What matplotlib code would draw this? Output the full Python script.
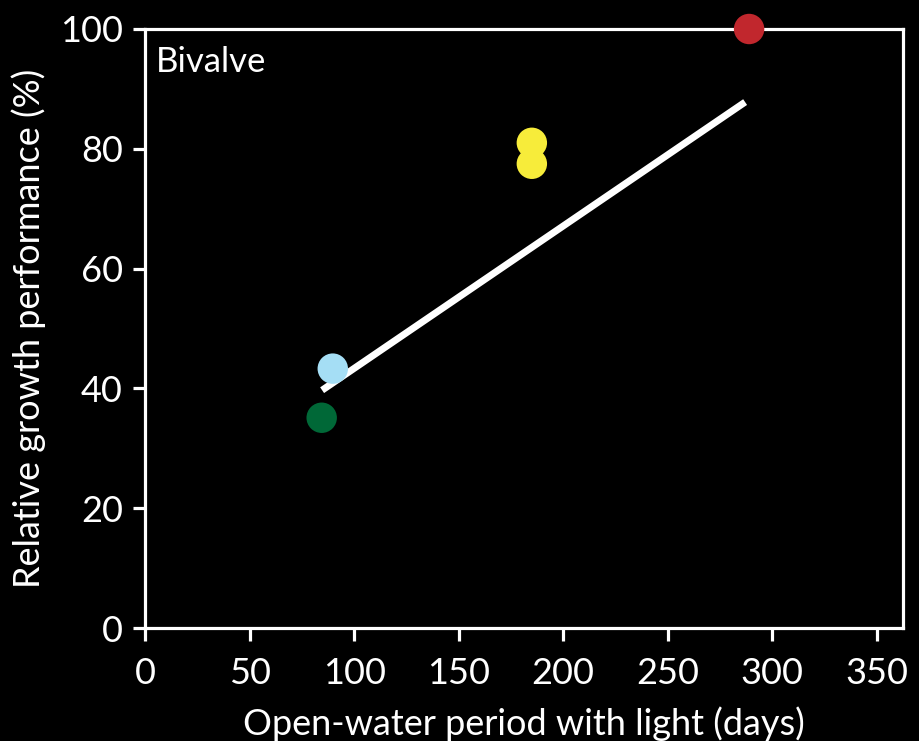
import matplotlib
matplotlib.use("Agg")
import matplotlib.pyplot as plt
import numpy as np

days = [288.9, 185.0, 185.0, 89.8, 84.5]
growth = [100.0, 81.0, 77.5, 43.3, 35.1]
colors = ["#C1272D", "#F7EC3A", "#F7EC3A", "#A5DEF5", "#006837"]
fit_x = [84.7, 287.0]
fit_y = [39.7, 87.8]
xticks = [0, 50, 100, 150, 200, 250, 300, 350]
yticks = [0, 20, 40, 60, 80, 100]

plt.rcParams['font.family'] = ['Lato', 'DejaVu Sans']

fig = plt.figure(figsize=(9.19, 7.41), dpi=100, facecolor='black')
ax = fig.add_axes([145/919, 1-628/741, (903-145)/919, (628-29)/741])
ax.set_facecolor('black')

ax.plot(fit_x, fit_y, color='white', lw=5, solid_capstyle='butt', zorder=2)
ax.scatter(days, growth, s=480, c=colors, edgecolors='none', zorder=3, clip_on=False)

ax.set_xlim(0, 362.5)
ax.set_ylim(0, 100)
ax.set_xticks(xticks)
ax.set_yticks(yticks)
for s in ax.spines.values():
    s.set_color('white')
    s.set_linewidth(2.3)
ax.tick_params(colors='white', labelsize=26, length=9, width=2.3, pad=7)
ax.tick_params(axis='x', pad=12)
ax.set_xlabel('Open-water period with light (days)', color='white', fontsize=26, labelpad=12)
ax.set_ylabel('Relative growth performance (%)', color='white', fontsize=26, labelpad=10)
ax.text(0.015, 0.945, 'Bivalve', transform=ax.transAxes, color='white', fontsize=25,
        va='center', ha='left')

fig.savefig('out.png', dpi=100, facecolor='black')
